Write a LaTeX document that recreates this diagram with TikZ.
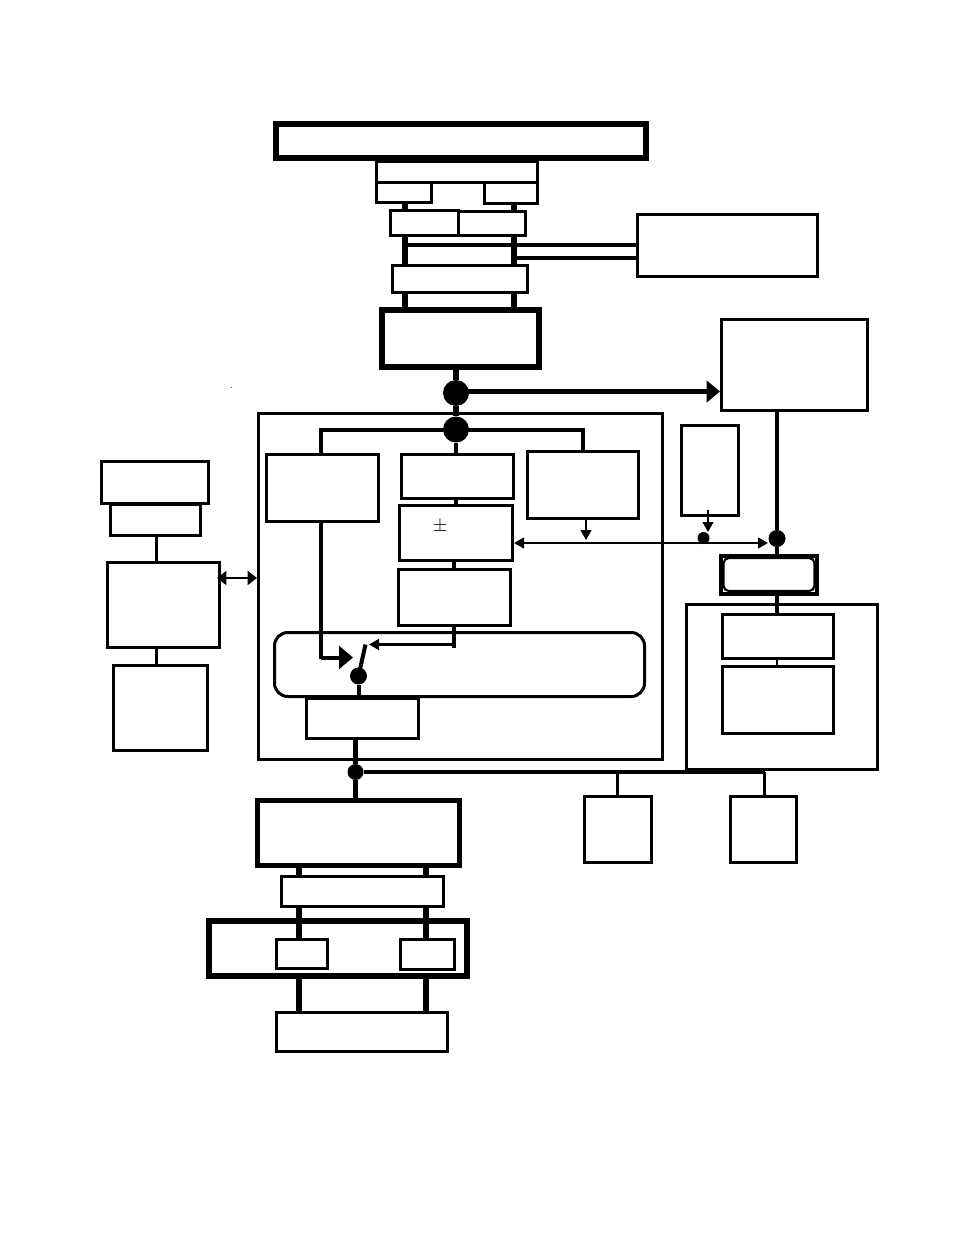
\documentclass[tikz,border=0pt]{standalone}
\usetikzlibrary{arrows.meta}
\tikzset{
 sz/.style 2 args
  = {minimum width=#1*0.75pt, minimum height=#2*0.75pt},
 b/.style
  = {rectangle, draw, inner sep=0pt, line width=2.25pt},
 bk/.style
  = {rectangle, draw, inner sep=0pt, line width=4.2pt},
 r/.style
  = {rectangle, draw, inner sep=0pt, line width=2.25pt, rounded corners=10pt},
 c/.style
  = {circle, fill=black, inner sep=0pt},
 l/.style
  = {draw, line width=2.3pt},
 lk/.style
  = {draw, line width=4.2pt},
 ls/.style
  = {draw, line width=1.8pt, -{Triangle[length=7.5pt,width=8pt]}}
}

\begin{document}
\begin{tikzpicture}[x=0.75pt,y=-0.75pt]
    \useasboundingbox (0,0) rectangle (954,1235);

    \node [b, sz={404}{346}] (frame) at (460.5,586.5) {};
    \node [b, sz={190.5}{165}] (frameright) at (781.75,687) {};

    \node [bk, line width=4.5pt, sz={370}{34}] (top) at (461,141) {};
    \node [b, sz={161}{21.5}] (upper) at (457,171.75) {};
    \node [b, sz={54.5}{20}] (smallleft) at (403.75,192.5) {};
    \node [b, sz={53}{20.5}] (smallright) at (511,192.75) {};
    \node [b, sz={67.5}{25}] (midleft) at (424.25,223) {};
    \node [b, sz={67.5}{24}] (midright) at (491.75,223.5) {};
    \node [b, sz={135}{27}] (third) at (460,279) {};
    \node [bk, sz={157}{57}] (main) at (460.5,338.5) {};
    \node [b, sz={179.5}{61.5}] (side) at (727.25,245.25) {};
    \node [b, sz={145.5}{91}] (rightbox) at (794.25,364.5) {};

    \node [b, sz={112}{66.5}] (inleft) at (322.5,487.75) {};
    \node [b, sz={111.5}{44}] (incenter) at (457.25,476.5) {};
    \node [b, sz={111}{67}] (inright) at (582.5,485) {};
    \node [b, sz={113}{55}] (plusminus) at (456,533) {};
    \node [b, sz={112}{55.5}] (lower) at (454.5,597.25) {};
    \node [r, sz={370}{64}] (bar) at (459.5,664.5) {};
    \node [b, sz={112}{40}] (output) at (362.5,718) {};

    \node [b, sz={57}{90}] (tall) at (710,470.5) {};
    \node [bk, line width=3pt, sz={96}{38}] (outerbox) at (769,575) {};
    \node [r, line width=1.6pt, rounded corners=4pt, sz={91}{33}] (innerbox) at (769,574.5) {};
    \node [b, sz={111}{44}] (upperright) at (777.5,636.5) {};
    \node [b, sz={111}{67}] (lowerright) at (777.5,700) {};

    \node [b, sz={107}{42}] (leftone) at (155,482.5) {};
    \node [b, sz={89.5}{31.5}] (lefttwo) at (155.25,519.75) {};
    \node [b, sz={111.5}{85}] (leftthree) at (163.25,605) {};
    \node [b, sz={94}{85}] (leftfour) at (160,708) {};

    \node [bk, sz={202}{65}] (load) at (358.5,833) {};
    \node [b, sz={66.5}{66}] (smallone) at (617.75,829.5) {};
    \node [b, sz={66}{66}] (smalltwo) at (763.5,829.5) {};
    \node [b, line width=2.6pt, sz={162}{30}] (bus) at (362.5,891.5) {};
    \node [bk, line width=4.5pt, sz={258}{55}] (wide) at (338,948.5) {};
    \node [b, sz={51}{29}] (pinone) at (302,954) {};
    \node [b, sz={54}{30}] (pintwo) at (427.5,954.5) {};
    \node [b, sz={171}{38.5}] (base) at (362,1031.75) {};

    \node [c, minimum size=26*0.75pt] (dotone) at (456,393) {};
    \node [c, minimum size=26*0.75pt] (dottwo) at (456,429.5) {};
    \node [c, minimum size=17*0.75pt] (dotswitch) at (358.5,676) {};
    \node [c, minimum size=16*0.75pt] (dotout) at (355.5,772) {};
    \node [c, minimum size=17*0.75pt] (dotright) at (777,538.5) {};
    \node [c, minimum size=12*0.75pt] (dottall) at (703.5,538) {};

    \node [inner sep=0pt, font=\fontsize{15}{15}\selectfont] (sign) at (440,526.5) {$\pm$};
    \node [inner sep=0pt, font=\scriptsize] (speck) at (231.5,388) {.};

    \coordinate (busa) at (405,0);
    \coordinate (busb) at (514,0);
    \coordinate (busc) at (299,0);
    \coordinate (busd) at (426,0);
    \coordinate (tapa) at (0,244.5);
    \coordinate (tapb) at (0,257.5);
    \coordinate (stub) at (454,648);
    \coordinate (hand) at (365.5,644.5);
    \coordinate (turn) at (321,657.5);
    \coordinate (tee) at (764.5,772);
    \coordinate (feed) at (708,510);
    \coordinate (midline) at (0,543);
    \coordinate (gap) at (0,578);
    \coordinate (drop) at (321,0);
    \coordinate (flow) at (0,391.5);

    \path [lk] (smallleft.south -| busa) -- (midleft.north -| busa);
    \path [lk] (smallright.south -| busb) -- (midright.north -| busb);
    \path [lk] (midleft.south -| busa) -- (third.north -| busa);
    \path [lk] (midright.south -| busb) -- (third.north -| busb);
    \path [lk] (third.south -| busa) -- (main.north -| busa);
    \path [lk] (third.south -| busb) -- (main.north -| busb);
    \path [lk, line width=3pt] (busa |- tapa) -- (side.west |- tapa);
    \path [lk, line width=3pt] (busb |- tapb) -- (side.west |- tapb);

    \path [lk] (main.south -| dotone) -- (dotone);
    \path [lk] (dotone) -- (dottwo);
    \path [lk, line width=3.4pt, -{Triangle[length=10pt,width=16pt]}] (dotone |- flow) -- (rightbox.west |- flow);
    \path [l, line width=3pt] (dottwo.center) -| (inleft.north -| drop);
    \path [l, line width=3pt] (dottwo.center) -| (inright.north);
    \path [l, line width=3pt] (dottwo) -- (incenter.north -| dottwo);
    \path [l, line width=3pt] (incenter.south -| plusminus) -- (plusminus.north);
    \path [l, line width=3pt] (plusminus.south -| stub) -- (lower.north -| stub);
    \path [l, line width=3pt] (lower.south -| stub) -- (stub);
    \path [ls] (stub |- hand) -- ([xshift=3.5*0.75pt]hand);
    \path [lk, line width=3.2pt] (inleft.south -| turn) -- ([yshift=-1.5*0.75pt]turn);
    \path [lk, line width=3pt, -{Triangle[length=10.5pt,width=17pt]}] (turn) -- ++(32,0);
    \path [l, line width=3pt] (hand) -- (dotswitch.center);
    \path [l, line width=3pt] (dotswitch) -- (output.north -| dotswitch);
    \path [lk, line width=3.4pt] (output.south -| dotout) -- (dotout);
    \path [lk, line width=3.4pt] (dotout) -- (load.north -| dotout);
    \path [l] (dotout) -- (tee);
    \path [l] (tee) -- (smalltwo.north -| tee);
    \path [l] (smallone.north |- tee) -- (smallone.north);

    \path [ls] (inright.south -| 586,0) -- (586,540);
    \path [ls, line width=1.6pt, {Triangle[length=7.5pt,width=8pt]}-{Triangle[length=7.5pt,width=8pt]}] (plusminus.east |- midline) -- (768,543);
    \path [ls, line width=1.5pt] (feed) -- (708,532);

    \path [l] (rightbox.south -| dotright) -- (dotright);
    \path [l] (dotright) -- (outerbox.north -| dotright);
    \path [l] (outerbox.south -| dotright) -- (upperright.north -| dotright);
    \path [l, line width=1.8pt] (upperright.south -| dotright) -- (lowerright.north -| dotright);

    \path [l, line width=2.25pt] (lefttwo.south -| 156,0) -- (leftthree.north -| 156,0);
    \path [l, line width=2.25pt] (leftthree.south -| 156,0) -- (leftfour.north -| 156,0);
    \path [draw, line width=1pt, {Triangle[length=7pt,width=10.5pt]}-{Triangle[length=7pt,width=10.5pt]}] (217,578) -- (frame.west |- gap);

    \path [lk, line width=4.4pt] (load.south -| busc) -- (bus.north -| busc);
    \path [lk, line width=4.4pt] (load.south -| busd) -- (bus.north -| busd);
    \path [lk, line width=4.4pt] (bus.south -| busc) -- (pinone.north -| busc);
    \path [lk, line width=4.4pt] (bus.south -| busd) -- (pintwo.north -| busd);
    \path [lk, line width=4.8pt] (wide.south -| busc) -- (base.north -| busc);
    \path [lk, line width=4.8pt] (wide.south -| busd) -- (base.north -| busd);
\end{tikzpicture}
\end{document}
